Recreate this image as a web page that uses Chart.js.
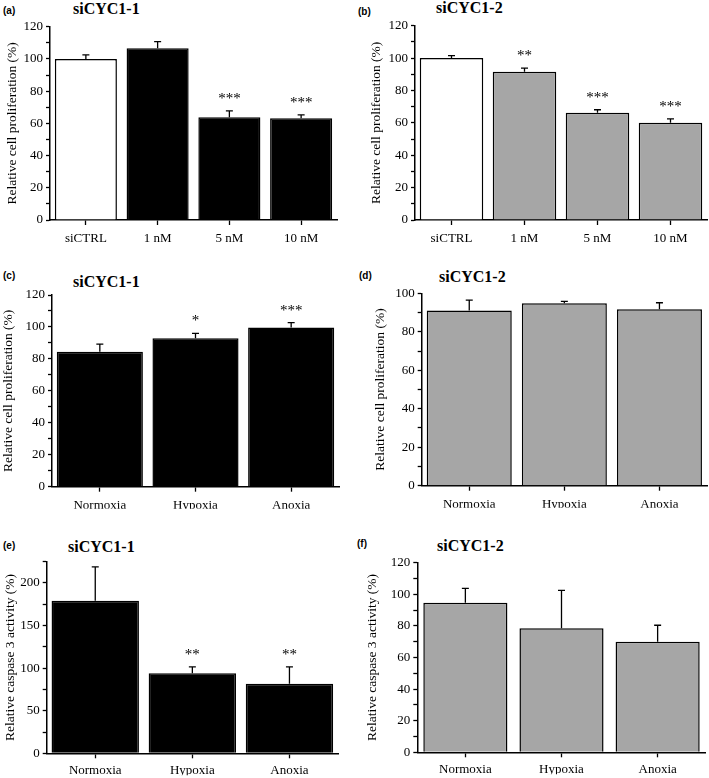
<!DOCTYPE html>
<html lang="en">
<head>
<meta charset="UTF-8">
<title>siCYC1 proliferation and caspase 3 activity</title>
<script src="https://cdn.jsdelivr.net/npm/chart.js"></script>
<style>
  body { margin: 0; background: #fff; }
  #figure { position: relative; width: 709px; height: 778px; }
  canvas { position: absolute; }
  .letter {
    position: absolute;
    font: bold 10px "Liberation Sans", Arial, sans-serif;
    transform: translateY(-50%);
  }
  .title {
    position: absolute;
    font: bold 16px "Liberation Serif", "Times New Roman", serif;
    transform: translateY(-50%);
  }
</style>
</head>
<body>
<div id="figure">
  <div class="letter" style="left:3px;top:10px">(a)</div>
  <div class="title" style="left:73px;top:9px">siCYC1-1</div>
  <canvas id="chartA" width="354" height="260" style="left:0;top:0"></canvas>

  <div class="letter" style="left:358px;top:11px">(b)</div>
  <div class="title" style="left:436px;top:8px">siCYC1-2</div>
  <canvas id="chartB" width="355" height="260" style="left:354px;top:0"></canvas>

  <div class="letter" style="left:3px;top:275px">(c)</div>
  <div class="title" style="left:73px;top:282px">siCYC1-1</div>
  <canvas id="chartC" width="354" height="260" style="left:0;top:260px"></canvas>

  <div class="letter" style="left:359px;top:275px">(d)</div>
  <div class="title" style="left:439px;top:277px">siCYC1-2</div>
  <canvas id="chartD" width="355" height="260" style="left:354px;top:260px"></canvas>

  <div class="letter" style="left:3px;top:545px">(e)</div>
  <div class="title" style="left:68px;top:547px">siCYC1-1</div>
  <canvas id="chartE" width="354" height="258" style="left:0;top:520px"></canvas>

  <div class="letter" style="left:357px;top:543px">(f)</div>
  <div class="title" style="left:437px;top:546px">siCYC1-2</div>
  <canvas id="chartF" width="355" height="258" style="left:354px;top:520px"></canvas>
</div>

<script>
// categories
const doseLabels = ['siCTRL', '1 nM', '5 nM', '10 nM'];
const oxygenLabels = ['Normoxia', 'Hypoxia', 'Anoxia'];

// (a) siCYC1-1 proliferation by dose
const aValues = [100, 106.6, 63.8, 63.2];
const aErrors = [2.5, 4.1, 3.9, 2.0];
const aStars = ['', '', '***', '***'];

// (b) siCYC1-2 proliferation by dose
const bValues = [100, 91.5, 66.3, 60];
const bErrors = [1.5, 2.3, 1.8, 2.5];
const bStars = ['', '**', '***', '***'];

// (c) siCYC1-1 proliferation by oxygen
const cValues = [84.5, 92.9, 99.6];
const cErrors = [4.8, 3.1, 3.1];
const cStars = ['', '*', '***'];

// (d) siCYC1-2 proliferation by oxygen
const dValues = [91, 94.8, 91.7];
const dErrors = [5.5, 1.0, 3.4];
const dStars = ['', '', ''];

// (e) siCYC1-1 caspase 3 activity
const eValues = [179, 94, 81.6];
const eErrors = [40, 7.5, 20];
const eStars = ['', '**', '**'];

// (f) siCYC1-2 caspase 3 activity
const fValues = [94.7, 78.5, 70];
const fErrors = [9, 24, 10.4];
const fStars = ['', '', ''];

// y axis ticks: [max, tick step, label step]
const prolifTicks = [120, 10, 20];
const prolifTicksD = [100, 10, 20];
const caspaseTicksE = [225, 25, 50];
const caspaseTicksF = [120, 10, 20];

const serif = '"Liberation Serif", "Times New Roman", serif';

// upper error whiskers and significance stars
const errorBars = {
  id: 'errorBars',
  afterDatasetsDraw(chart, args, opts) {
    const ctx = chart.ctx;
    const y = chart.scales.y;
    const values = chart.data.datasets[0].data;
    ctx.save();
    ctx.strokeStyle = '#000';
    ctx.lineWidth = 1.3;
    chart.getDatasetMeta(0).data.forEach((bar, i) => {
      const top = y.getPixelForValue(values[i] + opts.errors[i]);
      ctx.beginPath();
      ctx.moveTo(bar.x, y.getPixelForValue(values[i]));
      ctx.lineTo(bar.x, top);
      ctx.moveTo(bar.x - 3.5, top);
      ctx.lineTo(bar.x + 3.5, top);
      ctx.stroke();
      if (opts.stars[i]) {
        ctx.fillStyle = '#000';
        ctx.font = '15px ' + serif;
        ctx.textAlign = 'center';
        ctx.textBaseline = 'alphabetic';
        ctx.fillText(opts.stars[i], bar.x, top - 16 + 8);
      }
    });
    ctx.restore();
  }
};

function makePanel(id, o) {
  new Chart(document.getElementById(id), {
    type: 'bar',
    data: {
      labels: o.labels,
      datasets: [{
        data: o.values,
        backgroundColor: o.colors,
        borderColor: '#000',
        borderWidth: 1.5,
        barPercentage: o.barPct,
        categoryPercentage: 1
      }]
    },
    options: {
      responsive: false,
      animation: false,
      layout: { padding: { left: 0, top: o.pad[0], right: o.pad[1], bottom: o.pad[2] } },
      plugins: {
        legend: { display: false },
        tooltip: { enabled: false },
        errorBars: { errors: o.errors, stars: o.stars }
      },
      scales: {
        x: {
          grid: { offset: false, drawOnChartArea: false, tickLength: 5, tickColor: '#000', tickWidth: 1.3 },
          border: { color: '#000', width: 1.5 },
          ticks: { color: '#000', font: { family: serif, size: 13 }, padding: o.xPad, maxRotation: 0 },
          afterFit: s => { s.height = 22; s.paddingLeft = 0; s.paddingRight = 0; }
        },
        y: {
          min: 0,
          max: o.ticks[0],
          grid: { drawOnChartArea: false, tickLength: 4, tickColor: '#000', tickWidth: 1.3 },
          border: { color: '#000', width: 1.5 },
          ticks: {
            stepSize: o.ticks[1],
            autoSkip: false,
            color: '#000',
            padding: 3,
            font: { family: serif, size: 13 },
            callback: v => (v % o.ticks[2] === 0 ? v : '')
          },
          title: {
            display: true,
            text: o.yTitle,
            color: '#000',
            font: { family: serif, size: 13.5 },
            padding: { top: o.titlePad, bottom: 0 }
          },
          afterFit: s => { s.width = o.yWidth; s.paddingTop = 0; s.paddingBottom = 0; }
        }
      }
    },
    plugins: [errorBars]
  });
}

const prolifTitle = 'Relative cell proliferation (%)';
const caspaseTitle = 'Relative caspase 3 activity (%)';
const grey = '#a6a6a6';

makePanel('chartA', { labels: doseLabels, values: aValues, errors: aErrors, stars: aStars,
  colors: ['#fff', '#000', '#000', '#000'], barPct: 0.865, ticks: prolifTicks,
  yTitle: prolifTitle, titlePad: 4.5, yWidth: 50, pad: [26.7, 17, 18], xPad: 6 });

makePanel('chartB', { labels: doseLabels, values: bValues, errors: bErrors, stars: bStars,
  colors: ['#fff', grey, grey, grey], barPct: 0.87, ticks: prolifTicks,
  yTitle: prolifTitle, titlePad: 14, yWidth: 61, pad: [25.7, 2, 18], xPad: 6 });

makePanel('chartC', { labels: oxygenLabels, values: cValues, errors: cErrors, stars: cStars,
  colors: '#000', barPct: 0.9, ticks: prolifTicks,
  yTitle: prolifTitle, titlePad: 0, yWidth: 52, pad: [35, 15, 11.3], xPad: 6 });

makePanel('chartD', { labels: oxygenLabels, values: dValues, errors: dErrors, stars: dStars,
  colors: grey, barPct: 0.894, ticks: prolifTicksD,
  yTitle: prolifTitle, titlePad: 18, yWidth: 67.7, pad: [33.3, 2, 12.3], xPad: 6 });

makePanel('chartE', { labels: oxygenLabels, values: eValues, errors: eErrors, stars: eStars,
  colors: '#000', barPct: 0.9, ticks: caspaseTicksE,
  yTitle: caspaseTitle, titlePad: 2, yWidth: 46.7, pad: [41.7, 16, 2.7], xPad: 4 });

makePanel('chartF', { labels: oxygenLabels, values: fValues, errors: fErrors, stars: fStars,
  colors: grey, barPct: 0.875, ticks: caspaseTicksF,
  yTitle: caspaseTitle, titlePad: 10, yWidth: 63.3, pad: [42.7, 3.3, 3.7], xPad: 4 });
</script>
</body>
</html>
